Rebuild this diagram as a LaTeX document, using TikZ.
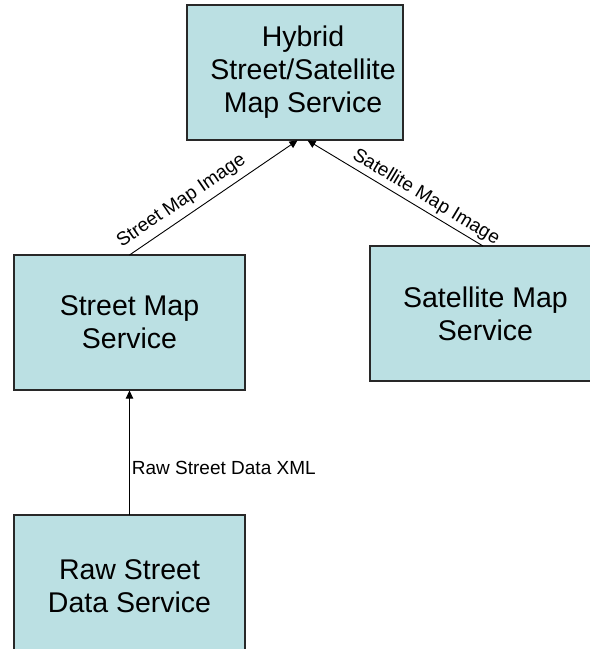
\documentclass[tikz,border=0pt]{standalone}
\usepackage{fontspec}
\setmainfont{Liberation Sans}
\usetikzlibrary{arrows.meta,calc}
\definecolor{boxfill}{RGB}{187,224,227}
\definecolor{boxline}{RGB}{40,40,40}
\begin{document}
\begin{tikzpicture}[x=1pt,y=-1pt,
  service/.style={draw=boxline,line width=1.3pt,fill=boxfill,rectangle,
    align=center,inner sep=0pt,outer sep=0pt,
    font=\fontsize{28.5}{33}\selectfont},
  flow/.style={draw=black,line width=0.9pt,
    -{Triangle[length=8pt,width=7.5pt]},shorten >=0.6pt},
  flowlabel/.style={font=\fontsize{19}{22}\selectfont,inner xsep=0pt}]
  \clip (0,0) rectangle (590,649);
  \fill[white] (0,0) rectangle (590,649);

  % service boxes
  \node[service,minimum width=216pt,minimum height=135pt] (hyb) at (295,72.5) {};
  \node[align=center,font=\fontsize{28.5}{33}\selectfont,inner sep=0pt]
    (hybtext) at ($(hyb.center)+(8,0)$) {Hybrid\\Street/Satellite\\Map Service};
  \node[service,minimum width=231pt,minimum height=135pt] (street) at (129.5,322.5)
    {Street Map\\Service};
  \node[service,minimum width=231pt,minimum height=135pt] (sat) at (485.5,313.5)
    {Satellite Map\\Service};
  \node[service,minimum width=231pt,minimum height=142pt] (raw) at (129.5,586)
    {Raw Street\\Data Service};

  % arrow ends on the bottom of the hybrid box
  \coordinate (hybL) at ($(hyb.south)+(3,0)$);
  \coordinate (hybR) at ($(hyb.south)+(12,0)$);
  \coordinate (satTop) at ($(sat.north)+(-2.5,0)$);

  % data flows
  \draw[flow] (street.north) -- node[flowlabel,pos=0.36,sloped,anchor=south,inner ysep=6pt]
    {Street Map Image} (hybL);
  \draw[flow] (satTop) -- node[flowlabel,pos=0.36,sloped,anchor=south,inner ysep=3pt]
    {Satellite Map Image} (hybR);
  \draw[flow] (raw.north) -- node[flowlabel,anchor=west,inner xsep=2pt,pos=0.38]
    {Raw Street Data XML} (street.south);
\end{tikzpicture}
\end{document}
